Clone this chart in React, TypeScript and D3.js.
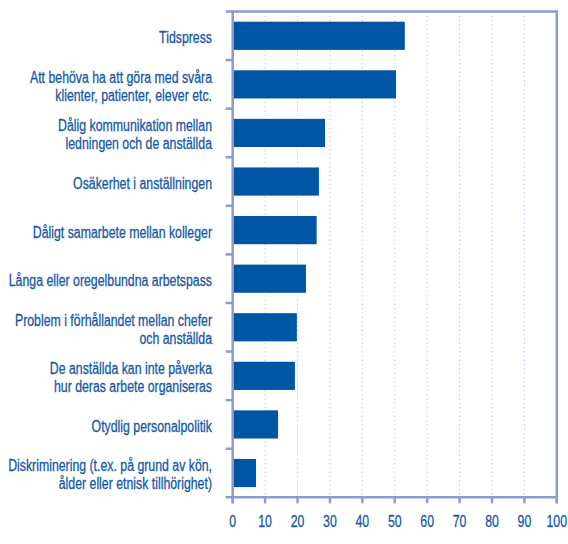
import React from "react";
import * as d3 from "d3";

const categories: string[][] = [
  ["Tidspress"],
  ["Att behöva ha att göra med svåra", "klienter, patienter, elever etc."],
  ["Dålig kommunikation mellan", "ledningen och de anställda"],
  ["Osäkerhet i anställningen"],
  ["Dåligt samarbete mellan kolleger"],
  ["Långa eller oregelbundna arbetspass"],
  ["Problem i förhållandet mellan chefer", "och anställda"],
  ["De anställda kan inte påverka", "hur deras arbete organiseras"],
  ["Otydlig personalpolitik"],
  ["Diskriminering (t.ex. på grund av kön,", "ålder eller etnisk tillhörighet)"],
];
const values: number[] = [53.1, 50.4, 28.5, 26.6, 25.9, 22.6, 19.8, 19.2, 14.0, 7.2];
const xTicks: number[] = [0, 10, 20, 30, 40, 50, 60, 70, 80, 90, 100];

const W = 568;
const H = 544;
const left = 232.7;
const right = 556.8;
const top = 11.5;
const bottom = 497.3;

const axisColor = "#8f9bd0";
const gridColor = "#b9bde6";
const barColor = "#0055a4";
const textColor = "#1659a6";
const font = "'Liberation Sans', Arial, sans-serif";
const fs = 16;
const sx = 0.77;

export default function App() {
  const x = d3.scaleLinear().domain([0, 100]).range([left, right]);
  const idx = categories.map((_, i) => i);
  const band = d3.scaleBand<number>().domain(idx).range([top, bottom]).paddingInner(0).paddingOuter(0);
  const step = band.step();
  const barH = step * 0.58;

  return (
    <svg width={W} height={H} style={{ position: "absolute", left: 0, top: 0, background: "#fff" }}>
      {xTicks.slice(1, -1).map((t) => (
        <line key={"g" + t} x1={x(t)} x2={x(t)} y1={top} y2={bottom} stroke={gridColor} strokeWidth={1} strokeDasharray="1.3 3" />
      ))}
      {values.map((v, i) => (
        <rect key={"b" + i} x={x(0)} y={(band(i) as number) + (step - barH) / 2} width={x(v) - x(0)} height={barH} fill={barColor} />
      ))}
      <line x1={left - 7} x2={right + 1} y1={top} y2={top} stroke={axisColor} strokeWidth={2.5} />
      <line x1={right} x2={right} y1={top - 1} y2={bottom + 6} stroke={axisColor} strokeWidth={2.5} />
      <line x1={left} x2={left} y1={top - 1} y2={bottom + 6} stroke={axisColor} strokeWidth={2.5} />
      <line x1={left - 7} x2={right + 1} y1={bottom} y2={bottom} stroke={axisColor} strokeWidth={2.5} />
      {idx.slice(1).map((i) => (
        <line key={"t" + i} x1={left - 7} x2={left} y1={band(i) as number} y2={band(i) as number} stroke={axisColor} strokeWidth={2.5} />
      ))}
      {xTicks.map((t) => (
        <line key={"xt" + t} x1={x(t)} x2={x(t)} y1={bottom} y2={bottom + 6} stroke={axisColor} strokeWidth={2.5} />
      ))}
      {xTicks.map((t) => (
        <g key={"xl" + t} transform={`translate(${x(t)},0) scale(${sx},1)`}>
          <text x={0} y={527} textAnchor="middle" fontFamily={font} fontSize={fs} fill={textColor} stroke={textColor} strokeWidth={0.3}>
            {t}
          </text>
        </g>
      ))}
      {categories.map((lines, i) => {
        const cy = (band(i) as number) + step / 2;
        const lh = 18;
        const y0 = cy - ((lines.length - 1) * lh) / 2 + 7.5;
        return (
          <g key={"c" + i} transform={`translate(212,0) scale(${sx},1)`}>
            <text textAnchor="end" fontFamily={font} fontSize={fs} fill={textColor} stroke={textColor} strokeWidth={0.3}>
              {lines.map((l, j) => (
                <tspan key={j} x={0} y={y0 + j * lh}>
                  {l}
                </tspan>
              ))}
            </text>
          </g>
        );
      })}
    </svg>
  );
}
